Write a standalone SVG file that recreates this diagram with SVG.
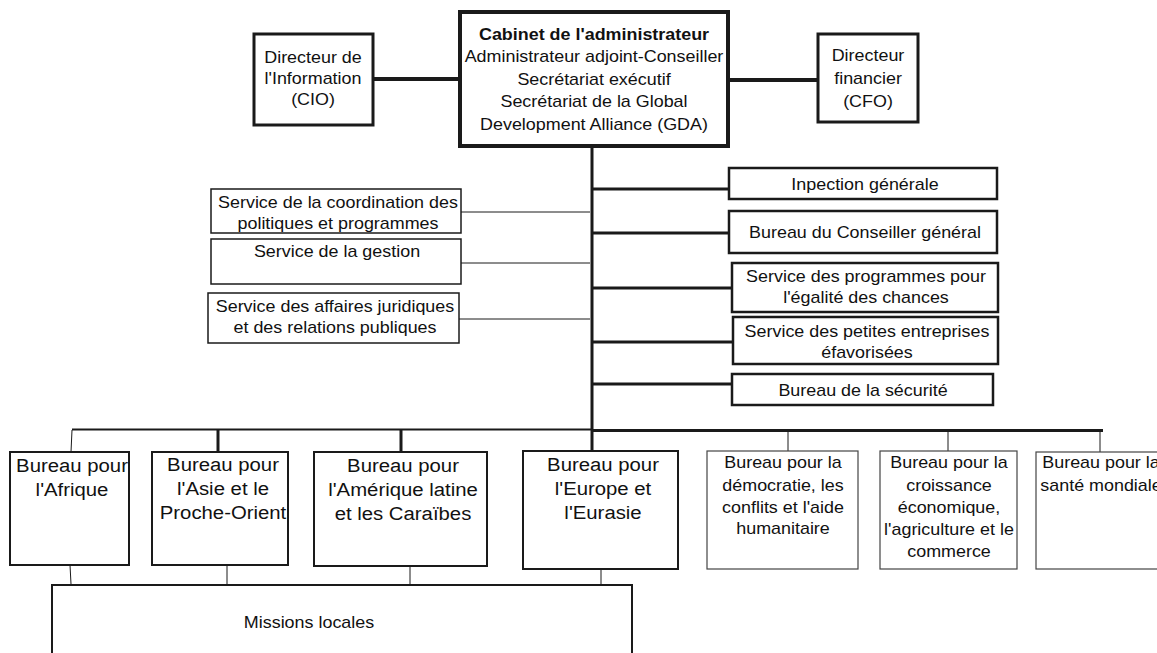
<svg xmlns="http://www.w3.org/2000/svg" width="1157" height="653" viewBox="0 0 1157 653">
<style>
text{font-family:"Liberation Sans",Arial,sans-serif;font-size:16px;fill:#111;text-anchor:middle}
.big{font-size:18px}
.b{font-weight:bold}
.box{fill:#fff;stroke:#1a1a1a}
.top{stroke-width:4}
.mid{stroke-width:3}
.sm{stroke-width:2.5}
.lt{stroke-width:1.5}
.th{stroke-width:1.2;stroke:#444}
.c{fill:none;stroke:#1a1a1a}
</style>
<rect width="1157" height="653" fill="#fff"/>
<g id="connectors">
  <line class="c" x1="373" y1="79" x2="460" y2="79" stroke-width="4"/>
  <line class="c" x1="728" y1="80" x2="817" y2="80" stroke-width="4"/>
  <line class="c" x1="592" y1="146" x2="592" y2="451" stroke-width="3"/>
  <line class="c" x1="592" y1="189" x2="729" y2="189" stroke-width="3"/>
  <line class="c" x1="592" y1="233" x2="729" y2="233" stroke-width="3"/>
  <line class="c" x1="592" y1="288" x2="732" y2="288" stroke-width="3"/>
  <line class="c" x1="592" y1="342" x2="733" y2="342" stroke-width="3"/>
  <line class="c" x1="592" y1="384" x2="732" y2="384" stroke-width="3"/>
  <line class="c" x1="461" y1="212" x2="590" y2="212" stroke="#555" stroke-width="1"/>
  <line class="c" x1="461" y1="263" x2="590" y2="263" stroke="#555" stroke-width="1"/>
  <line class="c" x1="459" y1="319" x2="590" y2="319" stroke="#555" stroke-width="1"/>
  <line class="c" x1="72" y1="429.5" x2="592" y2="429.5" stroke-width="2"/>
  <line class="c" x1="592" y1="430.5" x2="1103" y2="430.5" stroke-width="3"/>
  <line class="c" x1="72" y1="430" x2="71" y2="452" stroke-width="1"/>
  <line class="c" x1="218" y1="430" x2="218" y2="452" stroke-width="3"/>
  <line class="c" x1="401" y1="430" x2="401" y2="452" stroke-width="3"/>
  <line class="c" x1="788" y1="431" x2="788" y2="451" stroke="#444" stroke-width="1"/>
  <line class="c" x1="948" y1="431" x2="948" y2="451" stroke="#444" stroke-width="1"/>
  <line class="c" x1="1100" y1="431" x2="1100" y2="452" stroke="#444" stroke-width="1"/>
  <line class="c" x1="70" y1="565" x2="71" y2="584" stroke-width="1"/>
  <line class="c" x1="227" y1="565" x2="227" y2="584" stroke-width="1"/>
  <line class="c" x1="410" y1="566" x2="410" y2="584" stroke-width="1"/>
  <line class="c" x1="601" y1="569" x2="601" y2="584" stroke="#444" stroke-width="1"/>
</g>
<g id="cabinet">
  <rect class="box top" x="460" y="12" width="268" height="134"/>
  <text transform="translate(594,0) scale(1.12,1)"><tspan class="b" x="0" y="40">Cabinet de l'administrateur</tspan><tspan x="0" y="62.5">Administrateur adjoint-Conseiller</tspan><tspan x="0" y="85">Secrétariat exécutif</tspan><tspan x="0" y="107.5">Secrétariat de la Global</tspan><tspan x="0" y="130">Development Alliance (GDA)</tspan></text>
</g>
<g id="cio">
  <rect class="box mid" x="254" y="34" width="119" height="91"/>
  <text transform="translate(313,0) scale(1.12,1)"><tspan x="0" y="63.5">Directeur de</tspan><tspan x="0" y="84.5">l'Information</tspan><tspan x="0" y="105.5">(CIO)</tspan></text>
</g>
<g id="cfo">
  <rect class="box mid" x="818" y="34" width="100" height="88"/>
  <text transform="translate(868,0) scale(1.12,1)"><tspan x="0" y="61">Directeur</tspan><tspan x="0" y="84">financier</tspan><tspan x="0" y="107">(CFO)</tspan></text>
</g>
<g id="inspection">
  <rect class="box sm" x="729" y="168" width="268" height="31"/>
  <text transform="translate(865,0) scale(1.12,1)"><tspan x="0" y="190.5">Inpection générale</tspan></text>
</g>
<g id="conseiller">
  <rect class="box sm" x="729" y="211" width="268" height="42"/>
  <text transform="translate(865,0) scale(1.12,1)"><tspan x="0" y="238.5">Bureau du Conseiller général</tspan></text>
</g>
<g id="egalite">
  <rect class="box sm" x="732" y="263" width="266" height="49"/>
  <text transform="translate(866,0) scale(1.12,1)"><tspan x="0" y="282.5">Service des programmes pour</tspan><tspan x="0" y="303.5">l'égalité des chances</tspan></text>
</g>
<g id="petites">
  <rect class="box sm" x="733" y="317" width="265" height="47"/>
  <text transform="translate(867,0) scale(1.12,1)"><tspan x="0" y="337.5">Service des petites entreprises</tspan><tspan x="0" y="358.5">éfavorisées</tspan></text>
</g>
<g id="securite">
  <rect class="box sm" x="732" y="374" width="261" height="31"/>
  <text transform="translate(863,0) scale(1.12,1)"><tspan x="0" y="396">Bureau de la sécurité</tspan></text>
</g>
<g id="coordination">
  <rect class="box lt" x="211" y="189" width="250" height="44"/>
  <text transform="translate(338,0) scale(1.12,1)"><tspan x="0" y="208.5">Service de la coordination des</tspan><tspan x="0" y="229">politiques et programmes</tspan></text>
</g>
<g id="gestion">
  <rect class="box lt" x="211" y="239" width="250" height="45"/>
  <text transform="translate(337,0) scale(1.12,1)"><tspan x="0" y="257.5">Service de la gestion</tspan></text>
</g>
<g id="juridiques">
  <rect class="box lt" x="208" y="293" width="251" height="50"/>
  <text transform="translate(335,0) scale(1.12,1)"><tspan x="0" y="312.5">Service des affaires juridiques</tspan><tspan x="0" y="333.5">et des relations publiques</tspan></text>
</g>
<g id="afrique">
  <rect class="box" stroke-width="2" x="10" y="452" width="119" height="113"/>
  <text class="big" transform="translate(72,0) scale(1.13,1)"><tspan x="0" y="472.5">Bureau pour</tspan><tspan x="0" y="496.5">l'Afrique</tspan></text>
</g>
<g id="asie">
  <rect class="box" stroke-width="2" x="152" y="452" width="136" height="113"/>
  <text class="big" transform="translate(223,0) scale(1.13,1)"><tspan x="0" y="471.5">Bureau pour</tspan><tspan x="0" y="495.5">l'Asie et le</tspan><tspan x="0" y="519.5">Proche-Orient</tspan></text>
</g>
<g id="amerique">
  <rect class="box" stroke-width="2" x="314" y="452" width="173" height="114"/>
  <text class="big" transform="translate(403,0) scale(1.13,1)"><tspan x="0" y="472.5">Bureau pour</tspan><tspan x="0" y="496.5">l'Amérique latine</tspan><tspan x="0" y="520.5">et les Caraïbes</tspan></text>
</g>
<g id="europe">
  <rect class="box" stroke-width="2" x="523" y="451" width="155" height="118"/>
  <text class="big" transform="translate(603,0) scale(1.13,1)"><tspan x="0" y="471.5">Bureau pour</tspan><tspan x="0" y="495.5">l'Europe et</tspan><tspan x="0" y="519.5">l'Eurasie</tspan></text>
</g>
<g id="democratie">
  <rect class="box th" x="707" y="451" width="151" height="118"/>
  <text transform="translate(783,0) scale(1.12,1)"><tspan x="0" y="468.5">Bureau pour la</tspan><tspan x="0" y="491">démocratie, les</tspan><tspan x="0" y="513">conflits et l'aide</tspan><tspan x="0" y="534.5">humanitaire</tspan></text>
</g>
<g id="croissance">
  <rect class="box th" x="880" y="451" width="137" height="118"/>
  <text transform="translate(949,0) scale(1.12,1)"><tspan x="0" y="468.5">Bureau pour la</tspan><tspan x="0" y="491">croissance</tspan><tspan x="0" y="513">économique,</tspan><tspan x="0" y="535">l'agriculture et le</tspan><tspan x="0" y="557">commerce</tspan></text>
</g>
<g id="sante">
  <rect class="box th" x="1036" y="452" width="140" height="117"/>
  <text transform="translate(1101,0) scale(1.12,1)"><tspan x="0" y="468.5">Bureau pour la</tspan><tspan x="0" y="491">santé mondiale</tspan></text>
</g>
<g id="missions">
  <rect class="box" stroke-width="2" x="52" y="585" width="580" height="80"/>
  <text transform="translate(309,0) scale(1.12,1)"><tspan x="0" y="628.5">Missions locales</tspan></text>
</g>
</svg>
